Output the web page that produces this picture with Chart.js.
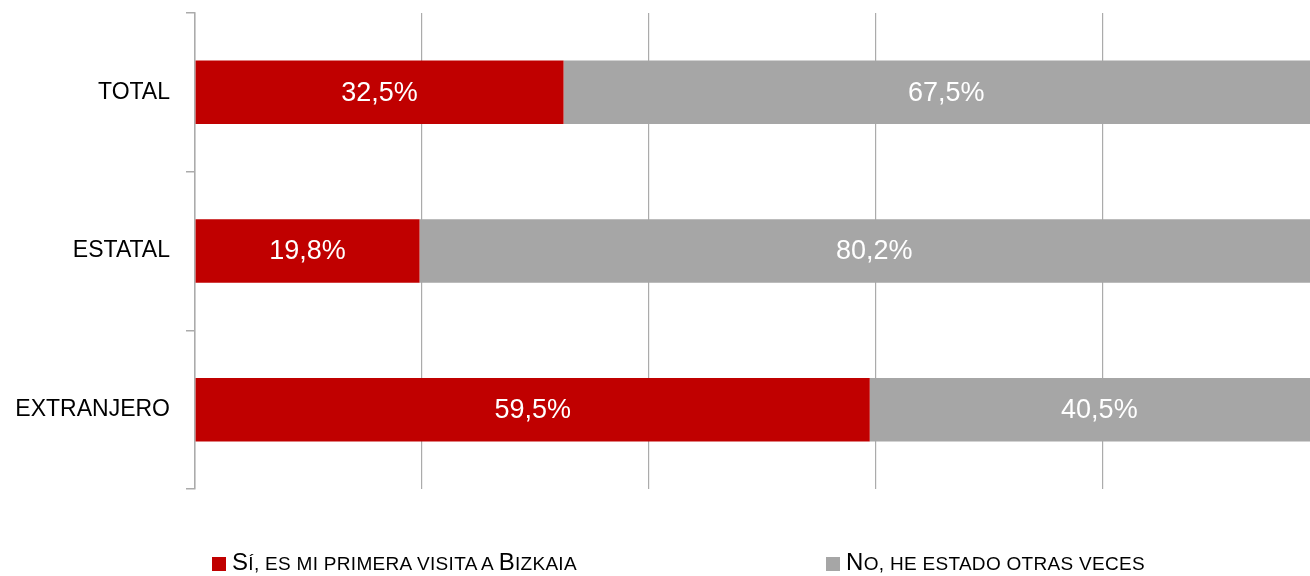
<!DOCTYPE html>
<html>
<head>
<meta charset="utf-8">
<script src="https://cdn.jsdelivr.net/npm/chart.js@4/dist/chart.umd.min.js"></script>
<style>
  html, body { margin: 0; padding: 0; background: #fff; overflow: hidden; }
  #wrap { position: relative; width: 1329px; height: 576px; }
  .legend { position: absolute; top: 548px; font-family: "Liberation Sans", Arial, sans-serif;
            font-size: 24px; color: #000; white-space: nowrap; letter-spacing: 0.3px; }
  .legend .sm { font-size: 19px; }
  .legend span.box { display: inline-block; width: 14px; height: 14px; margin-right: 6px; vertical-align: -1px; }
</style>
</head>
<body>
<div id="wrap">
  <canvas id="chart" width="1329" height="576"></canvas>
  <div class="legend" style="left:212px"><span class="box" style="background:#C00000"></span>S<span class="sm">Í, ES MI PRIMERA VISITA A </span>B<span class="sm">IZKAIA</span></div>
  <div class="legend" style="left:826px"><span class="box" style="background:#A6A6A6"></span>N<span class="sm">O, HE ESTADO OTRAS VECES</span></div>
</div>
<script>
var categories = ["TOTAL", "ESTATAL", "EXTRANJERO"];
var seriesNames = ["Sí, es mi primera visita a Bizkaia", "No, he estado otras veces"];
var siValues = [32.5, 19.8, 59.5];
var noValues = [67.5, 80.2, 40.5];
var seriesColors = ["#C00000", "#A6A6A6"];

// labels inside the bars, centered on each segment
var barLabels = {
    id: "barLabels",
    afterDatasetsDraw: function (chart) {
        var ctx = chart.ctx;
        ctx.save();
        ctx.font = "27px 'Liberation Sans', Arial, sans-serif";
        ctx.fillStyle = "#ffffff";
        ctx.textAlign = "center";
        ctx.textBaseline = "middle";
        chart.data.datasets.forEach(function (ds, i) {
            chart.getDatasetMeta(i).data.forEach(function (bar, j) {
                var txt = ds.data[j].toFixed(1).replace(".", ",") + "%";
                ctx.fillText(txt, (bar.x + bar.base) / 2, bar.y + 1);
            });
        });
        ctx.restore();
    }
};

var ctx = document.getElementById("chart").getContext("2d");
new Chart(ctx, {
    type: "bar",
    data: {
        labels: categories,
        datasets: [
            { label: seriesNames[0], data: siValues, backgroundColor: seriesColors[0] },
            { label: seriesNames[1], data: noValues, backgroundColor: seriesColors[1] }
        ]
    },
    options: {
        indexAxis: "y",
        responsive: false,
        animation: false,
        barPercentage: 0.4,
        categoryPercentage: 1,
        layout: { padding: { top: 13, bottom: 87, left: 0, right: 0 } },
        plugins: { legend: { display: false }, tooltip: { enabled: false } },
        scales: {
            x: {
                stacked: true,
                min: 0,
                max: 100,
                ticks: { display: false, stepSize: 20 },
                grid: { color: "#ABABAB", lineWidth: 1.2, drawTicks: false },
                border: { display: false },
                afterFit: function (scale) { scale.height = 0; scale.paddingLeft = 0; scale.paddingRight = 0; }
            },
            y: {
                stacked: true,
                ticks: {
                    color: "#000",
                    padding: 16,
                    font: { family: "'Liberation Sans', Arial, sans-serif", size: 23 }
                },
                grid: { drawOnChartArea: false, color: "#ABABAB", tickLength: 9, lineWidth: 1.5 },
                border: { color: "#ABABAB", width: 1.5 },
                afterFit: function (scale) { scale.width = 195; scale.paddingTop = 0; scale.paddingBottom = 0; }
            }
        }
    },
    plugins: [barLabels]
});
</script>
</body>
</html>
